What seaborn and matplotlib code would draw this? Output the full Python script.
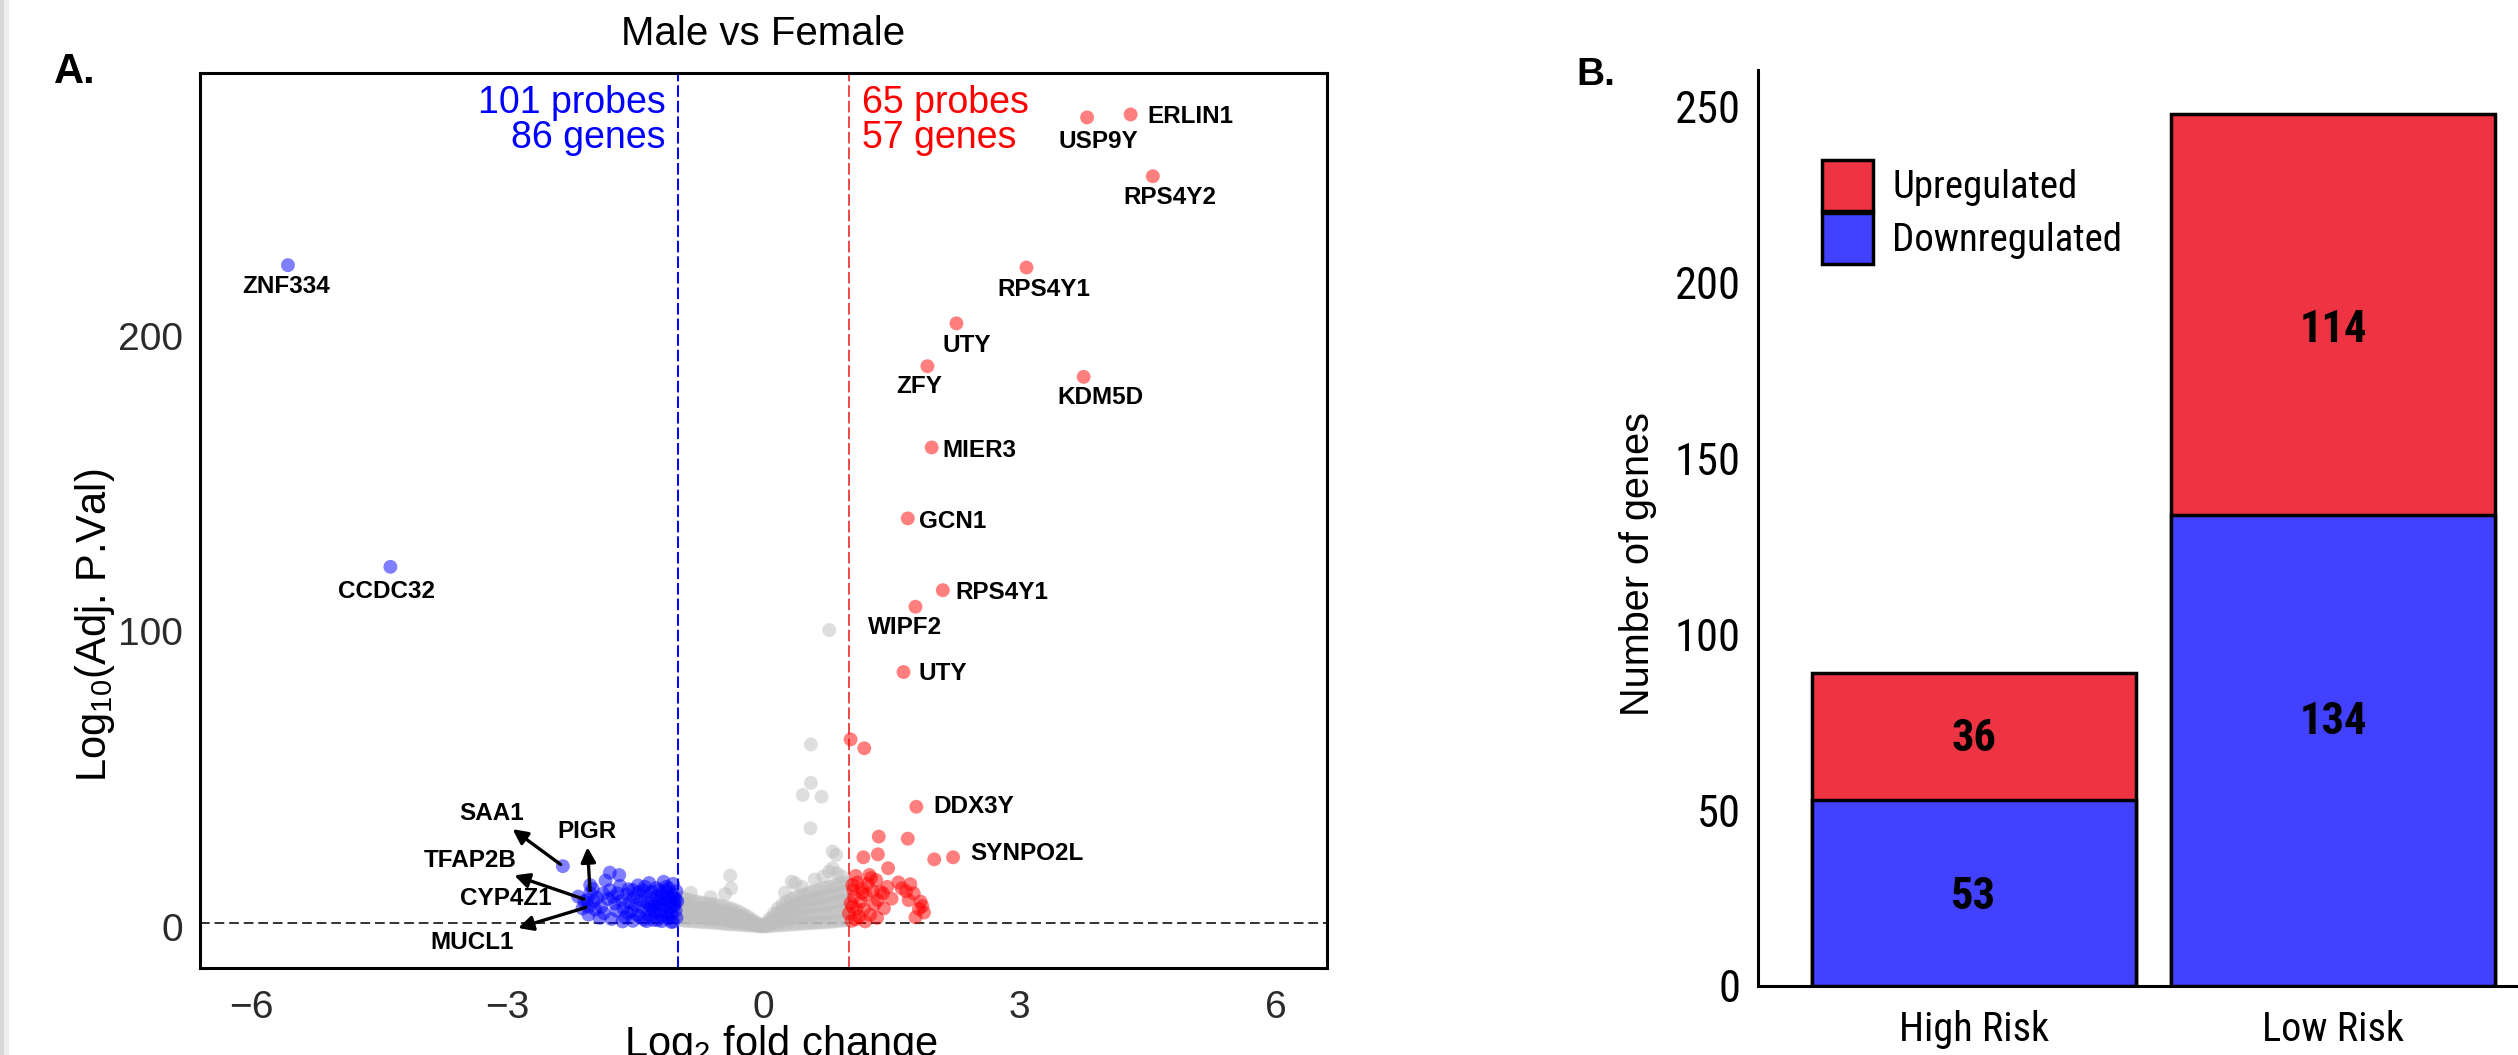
import matplotlib
matplotlib.use("Agg")
import matplotlib.pyplot as plt
import seaborn as sns
import pandas as pd
from matplotlib.patches import Patch, Rectangle

# ---------------- Panel A data (volcano: log2FC vs -log10 adj. p) ----------------
lab_gene = ["ERLIN1", "USP9Y", "RPS4Y2", "RPS4Y1", "UTY", "ZFY", "KDM5D", "MIER3", "GCN1",
            "RPS4Y1", "WIPF2", "UTY", "DDX3Y", "SYNPO2L",
            "ZNF334", "CCDC32", "SAA1", "PIGR", "TFAP2B", "CYP4Z1", "MUCL1"]
lab_x = [4.30, 3.79, 4.56, 3.08, 2.26, 1.92, 3.75, 1.97, 1.69,
         2.10, 1.78, 1.64, 1.79, 2.22,
         -5.57, -4.37, -2.35, -2.03, -2.07, -2.17, -2.05]
lab_y = [274.9, 273.9, 254.0, 223.1, 204.2, 189.7, 186.1, 162.2, 138.2,
         113.9, 108.3, 86.2, 40.6, 23.5,
         223.9, 121.8, 20.5, 11.3, 9.0, 10.2, 6.8]
lab_dir = ["Up"] * 14 + ["Down"] * 7

up_x = [1.02, 1.18, 1.35, 1.69, 1.34, 1.17, 2.00, 1.46,
        1.08, 1.24, 1.32, 1.04, 1.37, 1.40, 1.06, 1.20, 1.34, 1.04, 1.18, 1.41,
        1.00, 1.12, 1.62, 1.72, 1.76, 1.84, 1.78, 1.67,
        1.02, 1.05, 1.10, 1.15, 1.22, 1.28, 1.30, 1.25, 1.14, 1.08, 1.03, 1.16,
        1.26, 1.45, 1.50, 1.70, 1.82, 1.86, 1.58, 1.09, 1.33, 1.19, 1.88]
up_y = [63.4, 60.4, 30.5, 29.8, 24.5, 23.5, 22.8, 19.8,
        17.2, 17.5, 15.8, 14.1, 11.8, 11.3, 10.2, 10.7, 9.0, 6.8, 5.9, 6.2,
        4.5, 3.4, 13.0, 14.4, 11.3, 8.5, 3.2, 12.0,
        8.0, 12.5, 15.0, 13.0, 14.5, 12.0, 7.5, 4.0, 8.5, 2.5, 2.0, 11.5,
        16.5, 13.5, 9.5, 9.0, 6.0, 7.0, 15.0, 6.0, 3.0, 1.8, 4.8]

down_x = [-1.80, -1.69, -2.03, -2.10, -1.99, -1.90, -1.92, -1.80, -1.71, -1.59,
          -1.53, -1.39, -1.45, -1.29, -1.22, -1.14, -1.06,
          -1.02, -1.03, -1.04, -1.05, -1.02, -1.08, -1.09, -1.10, -1.07, -1.12,
          -1.13, -1.15, -1.16, -1.18, -1.11, -1.20, -1.21, -1.23, -1.25, -1.19,
          -1.27, -1.28, -1.30, -1.31, -1.33, -1.35, -1.36, -1.38, -1.40, -1.42,
          -1.44, -1.46, -1.48, -1.50, -1.52, -1.55, -1.57, -1.60, -1.62, -1.64,
          -1.66, -1.68, -1.72, -1.74, -1.76, -1.78, -1.82, -1.85, -1.87, -1.88,
          -1.95, -1.97, -2.00, -2.05, -2.12, -1.06, -1.17, -1.26, -1.34, -1.47,
          -1.58, -1.01, -1.14, -1.24, -1.37, -1.53, -1.65, -1.10, -1.29, -1.41,
          -1.05, -1.22, -1.32, -1.13, -1.03, -1.08, -1.19]
down_y = [18.3, 17.5, 14.1, 8.5, 8.5, 6.8, 3.0, 12.4, 11.3, 4.7,
          12.4, 13.5, 3.4, 2.3, 12.4, 13.5, 1.7,
          3.0, 5.5, 7.8, 10.0, 12.0, 4.2, 6.5, 8.8, 11.0, 2.8,
          5.0, 7.2, 9.5, 11.5, 13.0, 3.8, 6.0, 8.2, 10.4, 1.9,
          4.9, 7.0, 9.3, 11.8, 3.3, 5.8, 8.0, 10.6, 2.4, 6.6,
          9.0, 11.6, 4.0, 7.4, 9.8, 5.2, 8.1, 10.9, 3.1, 6.3,
          8.9, 13.8, 5.4, 7.9, 10.1, 2.6, 9.4, 15.6, 4.6, 11.2,
          9.8, 5.8, 12.8, 4.1, 6.2, 14.5, 15.2, 13.1, 14.8, 14.0,
          12.7, 8.6, 3.6, 2.2, 1.9, 2.0, 1.8, 10.2, 5.5, 12.3,
          6.9, 9.1, 6.7, 12.1, 9.4, 1.6, 7.7]

# not significant probes (grey body of the volcano), five rows across the V
ns_grid_x = [-0.98, -0.93, -0.88, -0.83, -0.78, -0.73, -0.68, -0.63, -0.58, -0.53,
             -0.48, -0.43, -0.38, -0.33, -0.28, -0.23, -0.18, -0.13, -0.08, -0.03,
             0.02, 0.07, 0.12, 0.17, 0.22, 0.27, 0.32, 0.37, 0.42, 0.47,
             0.52, 0.57, 0.62, 0.67, 0.72, 0.77, 0.82, 0.87, 0.92, 0.97]
ns_row1 = [2.2, 2.0, 1.9, 1.8, 1.7, 1.6, 1.5, 1.4, 1.3, 1.2,
           1.0, 0.9, 0.8, 0.7, 0.6, 0.5, 0.4, 0.3, 0.2, 0.1,
           0.1, 0.2, 0.3, 0.4, 0.5, 0.6, 0.7, 0.8, 0.9, 1.0,
           1.1, 1.2, 1.3, 1.4, 1.5, 1.6, 1.7, 1.9, 2.0, 2.2]
ns_row2 = [4.1, 3.8, 3.5, 3.4, 3.2, 3.0, 2.9, 2.7, 2.6, 2.5,
           2.3, 2.1, 1.9, 1.7, 1.5, 1.2, 1.0, 0.7, 0.4, 0.2,
           0.2, 0.7, 1.2, 1.8, 2.2, 2.6, 2.8, 3.1, 3.3, 3.5,
           3.7, 3.9, 4.1, 4.3, 4.5, 4.7, 4.9, 5.2, 5.4, 5.6]
ns_row3 = [6.0, 5.6, 5.2, 5.0, 4.8, 4.5, 4.3, 4.1, 4.0, 3.8,
           3.6, 3.4, 3.1, 2.8, 2.4, 2.0, 1.6, 1.1, 0.7, 0.3,
           0.4, 1.2, 2.2, 3.2, 4.0, 4.6, 5.0, 5.4, 5.8, 6.1,
           6.4, 6.7, 7.0, 7.3, 7.6, 7.9, 8.2, 8.5, 8.8, 9.0]
ns_row4 = [8.0, 7.6, 7.2, 6.9, 6.6, 6.3, 6.1, 5.9, 5.8, 5.5,
           5.3, 5.0, 4.6, 4.2, 3.7, 3.1, 2.5, 1.7, 1.0, 0.4,
           0.6, 1.9, 3.3, 4.7, 5.7, 6.5, 7.1, 7.6, 8.1, 8.5,
           8.9, 9.3, 9.6, 10.0, 10.3, 10.7, 11.0, 11.4, 11.7, 12.0]
ns_row5 = [10.0, 9.6, 9.2, 8.8, 8.5, 8.2, 8.0, 7.8, 7.6, 7.3,
           7.0, 6.6, 6.2, 5.6, 5.0, 4.2, 3.4, 2.4, 1.4, 0.6,
           0.9, 2.6, 4.4, 6.2, 7.5, 8.5, 9.3, 9.9, 10.4, 10.9,
           11.4, 11.9, 12.3, 12.7, 13.1, 13.5, 13.9, 14.3, 14.7, 15.0]
ns_out_x = [-0.39, -0.38, -0.45, -0.62, -0.85, 0.37, 0.25, 0.33, 0.45, 0.60,
            0.70, 0.81, 0.81, 0.85, 0.77, 0.86, 0.92, 0.55, 0.46, 0.68,
            0.555, 0.555, 0.77]
ns_out_y = [17.3, 13.0, 11.0, 10.0, 11.5, 14.7, 11.5, 15.3, 13.5, 16.0,
            17.0, 25.5, 19.8, 24.3, 18.7, 18.1, 17.0, 33.3, 44.6, 44.0,
            48.7, 61.7, 100.4]

probe_text = ["101 probes", "86 genes"]
probe_text_up = ["65 probes", "57 genes"]

# ---------------- Panel B data (stacked bars) ----------------
risk_groups = ["High Risk", "Low Risk"]
n_down = [53, 134]
n_up = [36, 114]

# ---------------- style ----------------
RED_PT, BLUE_PT, GREY_PT = "#FF0000", "#0000FF", "#BEBEBE"
RED_BAR, BLUE_BAR = "#EE3342", "#4141FF"
REG = ["Liberation Sans", "DejaVu Sans"]
NARROW = ["Roboto Condensed", "Liberation Sans"]

sns.set_style("white")
plt.rcParams["font.family"] = REG
plt.rcParams["text.color"] = "black"
plt.rcParams["axes.labelcolor"] = "black"
plt.rcParams["mathtext.fontset"] = "custom"
plt.rcParams["mathtext.rm"] = "Liberation Sans"
plt.rcParams["mathtext.it"] = "Liberation Sans:italic"
plt.rcParams["mathtext.bf"] = "Liberation Sans:bold"

W, H = 2518, 1055
fig = plt.figure(figsize=(W / 100, H / 100), dpi=100)
fig.patch.set_facecolor("white")

fig.add_artist(Rectangle((0, 0), 4 / W, 1, transform=fig.transFigure, color="#d8d8d8", lw=0, zorder=0))
fig.add_artist(Rectangle((4 / W, 0), 5 / W, 1, transform=fig.transFigure, color="#eeeeee", lw=0, zorder=0))

# ======================= Panel A =======================
axA = fig.add_axes([200 / W, 1 - 967.5 / H, (1327 - 200) / W, (967.5 - 72.5) / H])

ns_x = ns_grid_x * 5 + ns_out_x
ns_y = ns_row1 + ns_row2 + ns_row3 + ns_row4 + ns_row5 + ns_out_y
df = pd.concat([
    pd.DataFrame({"logFC": ns_x, "p": ns_y, "grp": "NS"}),
    pd.DataFrame({"logFC": down_x, "p": down_y, "grp": "Down"}),
    pd.DataFrame({"logFC": up_x, "p": up_y, "grp": "Up"}),
    pd.DataFrame({"logFC": lab_x, "p": lab_y, "grp": lab_dir}),
], ignore_index=True)

sns.scatterplot(data=df, x="logFC", y="p", hue="grp",
                palette={"NS": GREY_PT, "Down": BLUE_PT, "Up": RED_PT},
                alpha=0.5, s=100, linewidth=0, legend=False, ax=axA, zorder=3)

axA.set_xlim(-6.6, 6.6)
axA.set_ylim(-13.8, 289.1)
axA.set_xticks([-6, -3, 0, 3, 6])
axA.set_yticks([0, 100, 200])

axA.axvline(-1, color="#0000FF", lw=1.4, dashes=(6, 2), zorder=2)
axA.axvline(1, color="#F04848", lw=1.4, dashes=(6, 2), zorder=2)
axA.axhline(1.3, color="#333333", lw=1.4, dashes=(5, 2.5), zorder=2)

for sp in axA.spines.values():
    sp.set_visible(True)
    sp.set_color("black")
    sp.set_linewidth(2.2)
axA.tick_params(axis="both", which="major", length=7, width=1.6, color="#333333",
                labelcolor="#2b2b2b", labelsize=28, direction="out")
axA.tick_params(axis="x", pad=9)
axA.tick_params(axis="y", pad=5)

axA.set_title("Male vs Female", fontsize=29, pad=19.5)
axA.set_xlabel(r"Log$_\mathregular{2}$ fold change", fontsize=30, va="top")
axA.xaxis.set_label_coords(0.5155, -0.062)
axA.set_ylabel(r"Log$_\mathregular{10}$(Adj. P.Val)", fontsize=30, va="center")
axA.yaxis.set_label_coords(-0.093, 0.382)

axA.text(-1.15, 275.4, probe_text[0], color="#0000FF", fontsize=27, ha="right", va="baseline")
axA.text(-1.15, 263.5, probe_text[1], color="#0000FF", fontsize=27, ha="right", va="baseline")
axA.text(1.158, 275.4, probe_text_up[0], color="#FF0000", fontsize=27, ha="left", va="baseline")
axA.text(1.158, 263.5, probe_text_up[1], color="#FF0000", fontsize=27, ha="left", va="baseline")

label_style = [
    (17, -2, "left", False), (11, -24, "center", False), (17.5, -21.5, "center", False),
    (17.5, -21.7, "center", False), (10, -22, "center", False), (-8.5, -20, "center", False),
    (16.5, -21, "center", False), (10.8, -2.7, "left", False), (11.7, -2.7, "left", False),
    (12.7, -2.5, "left", False), (-10, -21, "center", False), (14.7, -1, "left", False),
    (16.7, 0.7, "left", False), (17.3, 4, "left", False),
    (-2, -21.7, "center", False), (-4, -25, "center", False),
    (-71.5, 52.6, "center", True), (-3.7, 62.3, "center", True), (-117, 40, "center", True),
    (-72.5, -2.4, "center", False), (-116.7, -35.4, "center", True),
]
for g, x, y, (dx, dy, ha, arrow) in zip(lab_gene, lab_x, lab_y, label_style):
    kw = {}
    if arrow:
        kw["arrowprops"] = dict(arrowstyle="<|-", color="black", lw=2.4,
                                mutation_scale=22, shrinkA=1, shrinkB=2)
    axA.annotate(g, xy=(x, y), xytext=(dx, dy), textcoords="offset pixels",
                 ha=ha, va="center", fontsize=17.5, fontweight="bold", zorder=5, **kw)

fig.text(54 / W, 1 - 83 / H, "A.", fontsize=30, fontweight="bold", ha="left", va="baseline")

# ======================= Panel B =======================
axB = fig.add_axes([1758 / W, 1 - 986 / H, (2549 - 1758) / W, (986 - 70) / H])
totals = [d + u for d, u in zip(n_down, n_up)]
dfB = pd.DataFrame({"group": risk_groups, "total": totals, "down": n_down})

sns.barplot(data=dfB, x="group", y="total", color=RED_BAR, saturation=1, width=0.9,
            edgecolor="black", linewidth=2.5, ax=axB, zorder=2)
sns.barplot(data=dfB, x="group", y="down", color=BLUE_BAR, saturation=1, width=0.9,
            edgecolor="black", linewidth=2.5, ax=axB, zorder=3)

# count labels: centred in each segment, small pixel nudges as in the original layout
nudge_down = [-4, 28]
nudge_up = [-3, -16]
for i, (d, u) in enumerate(zip(n_down, n_up)):
    axB.annotate(str(d), xy=(i, d / 2), xytext=(0, nudge_down[i]), textcoords="offset pixels",
                 ha="center", va="center", fontsize=32, color="black",
                 fontweight="bold", family=NARROW, zorder=5)
    axB.annotate(str(u), xy=(i, d + u / 2), xytext=(0, nudge_up[i]), textcoords="offset pixels",
                 ha="center", va="center", fontsize=32, color="black",
                 fontweight="bold", family=NARROW, zorder=5)

axB.set_xlim(-0.6, 1.6)
axB.set_ylim(0, 260.4)
axB.set_yticks([0, 50, 100, 150, 200, 250])
axB.spines["top"].set_visible(False)
axB.spines["right"].set_visible(False)
for s in ("left", "bottom"):
    axB.spines[s].set_color("black")
    axB.spines[s].set_linewidth(2.2)
axB.tick_params(axis="both", length=6, width=1.6, color="#333333", labelcolor="black")
axB.tick_params(axis="y", pad=6.5)
axB.tick_params(axis="x", pad=11)
for lab in axB.get_yticklabels():
    lab.set_fontfamily(NARROW)
    lab.set_fontsize(32)
for lab in axB.get_xticklabels():
    lab.set_fontfamily(NARROW)
    lab.set_fontsize(29)
axB.set_xlabel("")
axB.set_ylabel("Number of genes", fontsize=28.5, va="center")
axB.yaxis.set_label_coords(-0.152, 0.461)

handles = [Patch(facecolor=RED_BAR, edgecolor="black", linewidth=2.5, label="Upregulated"),
           Patch(facecolor=BLUE_BAR, edgecolor="black", linewidth=2.5, label="Downregulated")]
axB.legend(handles=handles, loc="upper left", bbox_to_anchor=(1822 / W, 1 - 160 / H),
           bbox_transform=fig.transFigure, frameon=False, borderpad=0, borderaxespad=0,
           handlelength=1.31, handleheight=1.64, labelspacing=0.05, handletextpad=0.5,
           prop={"family": NARROW, "size": 28})

fig.text(1576 / W, 1 - 85 / H, "B.", fontsize=28, fontweight="bold", ha="left", va="baseline")

fig.savefig("out.png", dpi=100)
